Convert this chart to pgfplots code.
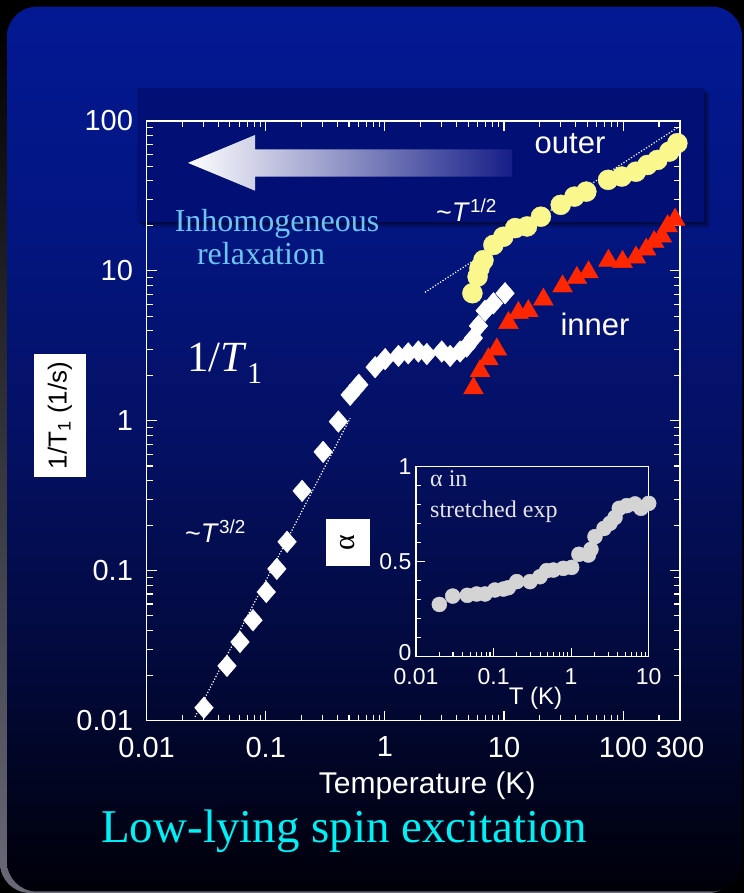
\documentclass[border=0pt]{standalone}
\usepackage{pgfplots}
\pgfplotsset{compat=1.18}
\usepackage{fontspec}
\setmainfont{Liberation Sans}
\newfontfamily\serif{Liberation Serif}
\definecolor{pc0}{RGB}{3,25,148}
\definecolor{pc1}{RGB}{3,21,128}
\definecolor{pc2}{RGB}{4,16,98}
\definecolor{pc3}{RGB}{2,9,58}
\definecolor{pc4}{RGB}{0,0,8}
\definecolor{bandc}{RGB}{2,16,118}
\definecolor{yel}{RGB}{250,248,140}
\definecolor{tri}{RGB}{255,38,0}
\definecolor{inhom}{RGB}{108,196,240}
\definecolor{lowc}{RGB}{0,240,245}
\definecolor{arrowend}{RGB}{22,30,135}
\definecolor{arrowmid}{RGB}{178,178,212}
\definecolor{insetgray}{RGB}{212,212,212}
\definecolor{lightt}{RGB}{228,228,228}
\pgfdeclareverticalshading{panelshade}{100bp}{color(0bp)=(pc4); color(25bp)=(pc4); color(37.5bp)=(pc3); color(50bp)=(pc2); color(62.5bp)=(pc1); color(75bp)=(pc0); color(100bp)=(pc0)}

\pgfplotstableread{
T R
0.0303 0.0122
0.0473 0.0232
0.0608 0.0335
0.0782 0.0468
0.101 0.0722
0.124 0.103
0.151 0.156
0.202 0.341
0.303 0.621
0.407 0.989
0.511 1.49
0.604 1.74
0.828 2.28
1.005 2.58
1.30 2.71
1.57 2.82
1.91 2.90
2.25 2.79
3.0 2.90
3.53 2.71
4.28 2.90
4.86 3.13
5.53 3.56
6.10 4.30
6.94 5.43
8.15 6.08
10.2 7.10
}\diamondsdata

\pgfplotstableread{
T R
5.54 1.65
6.29 2.15
7.39 2.58
8.70 3.0
10.9 4.5
13.2 5.25
16.0 5.4
21.4 6.45
31.0 7.9
40.9 9.0
51.2 9.8
75.3 11.7
98.8 11.5
128 12.3
156 13.9
182 15.6
211 17.0
236 19.9
273 22.0
}\innerdata

\pgfplotstableread{
T R
5.43 7.10
6.0 9.16
6.22 10.4
6.72 11.8
8.15 14.9
9.87 16.9
12.4 19.3
15.6 19.8
20.4 23.0
29.9 27.6
39.0 31.3
49.1 33.8
74.7 40.5
97.5 42.6
128 45.9
160 50.9
194 55.0
244 62.5
285 71.1
}\outerdata

\pgfplotstableread{
T A
0.02 0.275
0.0297 0.319
0.0459 0.323
0.0605 0.330
0.0776 0.330
0.104 0.351
0.134 0.356
0.155 0.363
0.199 0.395
0.295 0.395
0.397 0.421
0.484 0.453
0.589 0.456
0.793 0.465
1.016 0.470
1.26 0.539
1.67 0.535
1.80 0.565
2.03 0.632
2.65 0.675
3.17 0.702
3.68 0.733
4.18 0.781
5.20 0.795
6.66 0.804
7.96 0.781
10.0 0.807
}\alphadata

\begin{document}
\begin{tikzpicture}[x=1pt,y=1pt]
% background
\fill[black] (0,0) rectangle (744,893);
\shade[top color=black, bottom color={rgb,255:red,105;green,105;blue,120}, rounded corners=30pt] (0,0) rectangle (738,880);
\shade[shading=panelshade, rounded corners=30pt] (7,1.5) rectangle (742,886.3);
% dark band with soft shadow
\fill[black, opacity=0.12] (142.7,665.3) rectangle (710,799);
\fill[black, opacity=0.18] (140.7,667.3) rectangle (708,801);
\fill[black, opacity=0.22] (138.7,669.3) rectangle (706,803);
\fill[bandc] (136.7,671.3) rectangle (704,805);

\begin{axis}[
  at={(146.6pt,172.3pt)}, anchor=south west,
  scale only axis, width=533.4pt, height=599.7pt,
  xmode=log, ymode=log,
  xmin=0.01, xmax=300, ymin=0.01, ymax=100,
  clip=false,
  axis line style={white, line width=1.5pt},
  tick align=inside,
  major tick length=10pt, minor tick length=6pt,
  tick style={white, line width=1.1pt},
  xtick={0.01,0.1,1,10,100,300},
  xticklabels={0.01,0.1,1,10,100,300},
  minor xtick={0.02,0.03,0.04,0.05,0.06,0.07,0.08,0.09,0.2,0.3,0.4,0.5,0.6,0.7,0.8,0.9,2,3,4,5,6,7,8,9,20,30,40,50,60,70,80,90,200},
  ytick={0.01,0.1,1,10,100},
  yticklabels={0.01,0.1,1,10,100},
  minor ytick={0.02,0.03,0.04,0.05,0.06,0.07,0.08,0.09,0.2,0.3,0.4,0.5,0.6,0.7,0.8,0.9,2,3,4,5,6,7,8,9,20,30,40,50,60,70,80,90},
  /pgf/number format/assume math mode=true,
  tick label style={font=\fontsize{29}{30}\selectfont, text=white, inner sep=0pt},
  xticklabel style={yshift=-16pt},
  yticklabel style={xshift=-13.5pt},
  xlabel={Temperature (K)},
  xlabel style={at={(axis description cs:0.526,-0.1089)}, anchor=center, font=\fontsize{30}{32}\selectfont, text=white},
  ylabel={1/T\textsubscript{1} (1/s)},
  ylabel style={at={(axis description cs:-0.1624,0.509)}, anchor=center, fill=white, text=black, minimum width=123pt, minimum height=52pt, inner sep=0pt, font=\fontsize{26}{28}\selectfont},
]
\addplot[white, line width=1.2pt, dash pattern=on 1.2pt off 1.8pt] coordinates {(0.0255,0.0106) (0.511,1.04)};
\addplot[only marks, mark=diamond*, mark size=10.8pt, mark options={fill=white, draw=white, xscale=1.15}] table[x=T,y=R] {\diamondsdata};
\addplot[only marks, mark=triangle*, mark size=11.5pt, mark options={fill=tri, draw=tri}] table[x=T,y=R] {\innerdata};
\addplot[only marks, mark=*, mark size=10pt, mark options={fill=yel, draw=yel}] table[x=T,y=R] {\outerdata};
\addplot[white, line width=1.2pt, dash pattern=on 1.2pt off 1.8pt] coordinates {(2.17,7.2) (290,91)};
\end{axis}

\begin{axis}[
  at={(416pt,236.3pt)}, anchor=south west,
  scale only axis, width=232.7pt, height=190pt,
  xmode=log, xmin=0.01, xmax=10, ymin=0, ymax=1,
  clip=false,
  axis line style={white, line width=1.5pt},
  tick pos=left, tick align=inside,
  major tick length=9pt, minor tick length=5pt,
  tick style={white, line width=1.1pt},
  xtick={0.01,0.1,1,10}, xticklabels={0.01,0.1,1,10},
  minor xtick={0.02,0.03,0.04,0.05,0.06,0.07,0.08,0.09,0.2,0.3,0.4,0.5,0.6,0.7,0.8,0.9,2,3,4,5,6,7,8,9},
  ytick={0,0.5,1}, yticklabels={\raisebox{8pt}{0},0.5,1},
  minor ytick={0.1,0.2,0.3,0.4,0.6,0.7,0.8,0.9},
  /pgf/number format/assume math mode=true,
  tick label style={font=\fontsize{23}{24}\selectfont, text=white, inner sep=0pt},
  xticklabel style={yshift=-12pt},
  yticklabel style={xshift=-4.5pt},
  xlabel={T (K)},
  xlabel style={at={(axis description cs:0.5135,-0.22)}, anchor=center, font=\fontsize{24}{26}\selectfont, text=white},
  ylabel={α},
  ylabel style={at={(axis description cs:-0.2922,0.601)}, anchor=center, fill=white, text=black, minimum width=47pt, minimum height=44pt, inner sep=0pt, font=\serif\fontsize{30}{32}\selectfont},
]
\addplot[only marks, mark=*, mark size=7.5pt, mark options={fill=insetgray, draw=insetgray}] table[x=T,y=A] {\alphadata};
\end{axis}

% arrow
\shade[left color=white, middle color=arrowmid, right color=arrowend] (188,730.1) -- (255,758) -- (255,743.7) -- (512,743.7) -- (512,716.3) -- (255,716.3) -- (255,702.3) -- cycle;

% annotations
\node[anchor=base, text=white, font=\fontsize{31}{32}\selectfont, inner sep=0pt] at (570,739) {outer};
\node[anchor=base, text=white, font=\fontsize{31}{32}\selectfont, inner sep=0pt] at (595,557) {inner};
\node[anchor=base west, text=white, font=\fontsize{27}{28}\selectfont, inner sep=0pt] at (436,671) {\textasciitilde\textit{T}\textsuperscript{1/2}};
\node[anchor=base west, text=white, font=\fontsize{27}{28}\selectfont, inner sep=0pt] at (185,350) {\textasciitilde\textit{T}\textsuperscript{3/2}};
\node[anchor=base west, text=white, font=\serif\fontsize{43}{45}\selectfont, inner sep=0pt] at (187,521) {1/\textit{T}\textsubscript{1}};
\node[anchor=base, text=inhom, font=\serif\fontsize{32}{34}\selectfont, inner sep=0pt] at (277,661.3) {Inhomogeneous};
\node[anchor=base, text=inhom, font=\serif\fontsize{32}{34}\selectfont, inner sep=0pt] at (261,628) {relaxation};
\node[anchor=base west, text=lightt, font=\serif\fontsize{24}{26}\selectfont, inner sep=0pt] at (430,406.3) {α in};
\node[anchor=base west, text=lightt, font=\serif\fontsize{24}{26}\selectfont, inner sep=0pt] at (430,375) {stretched exp};
\node[anchor=base, text=lowc, font=\serif\fontsize{47}{50}\selectfont, inner sep=0pt] at (344,50) {Low-lying spin excitation};

\pgfresetboundingbox
\path[use as bounding box] (0,0) rectangle (744,893);
\end{tikzpicture}
\end{document}
